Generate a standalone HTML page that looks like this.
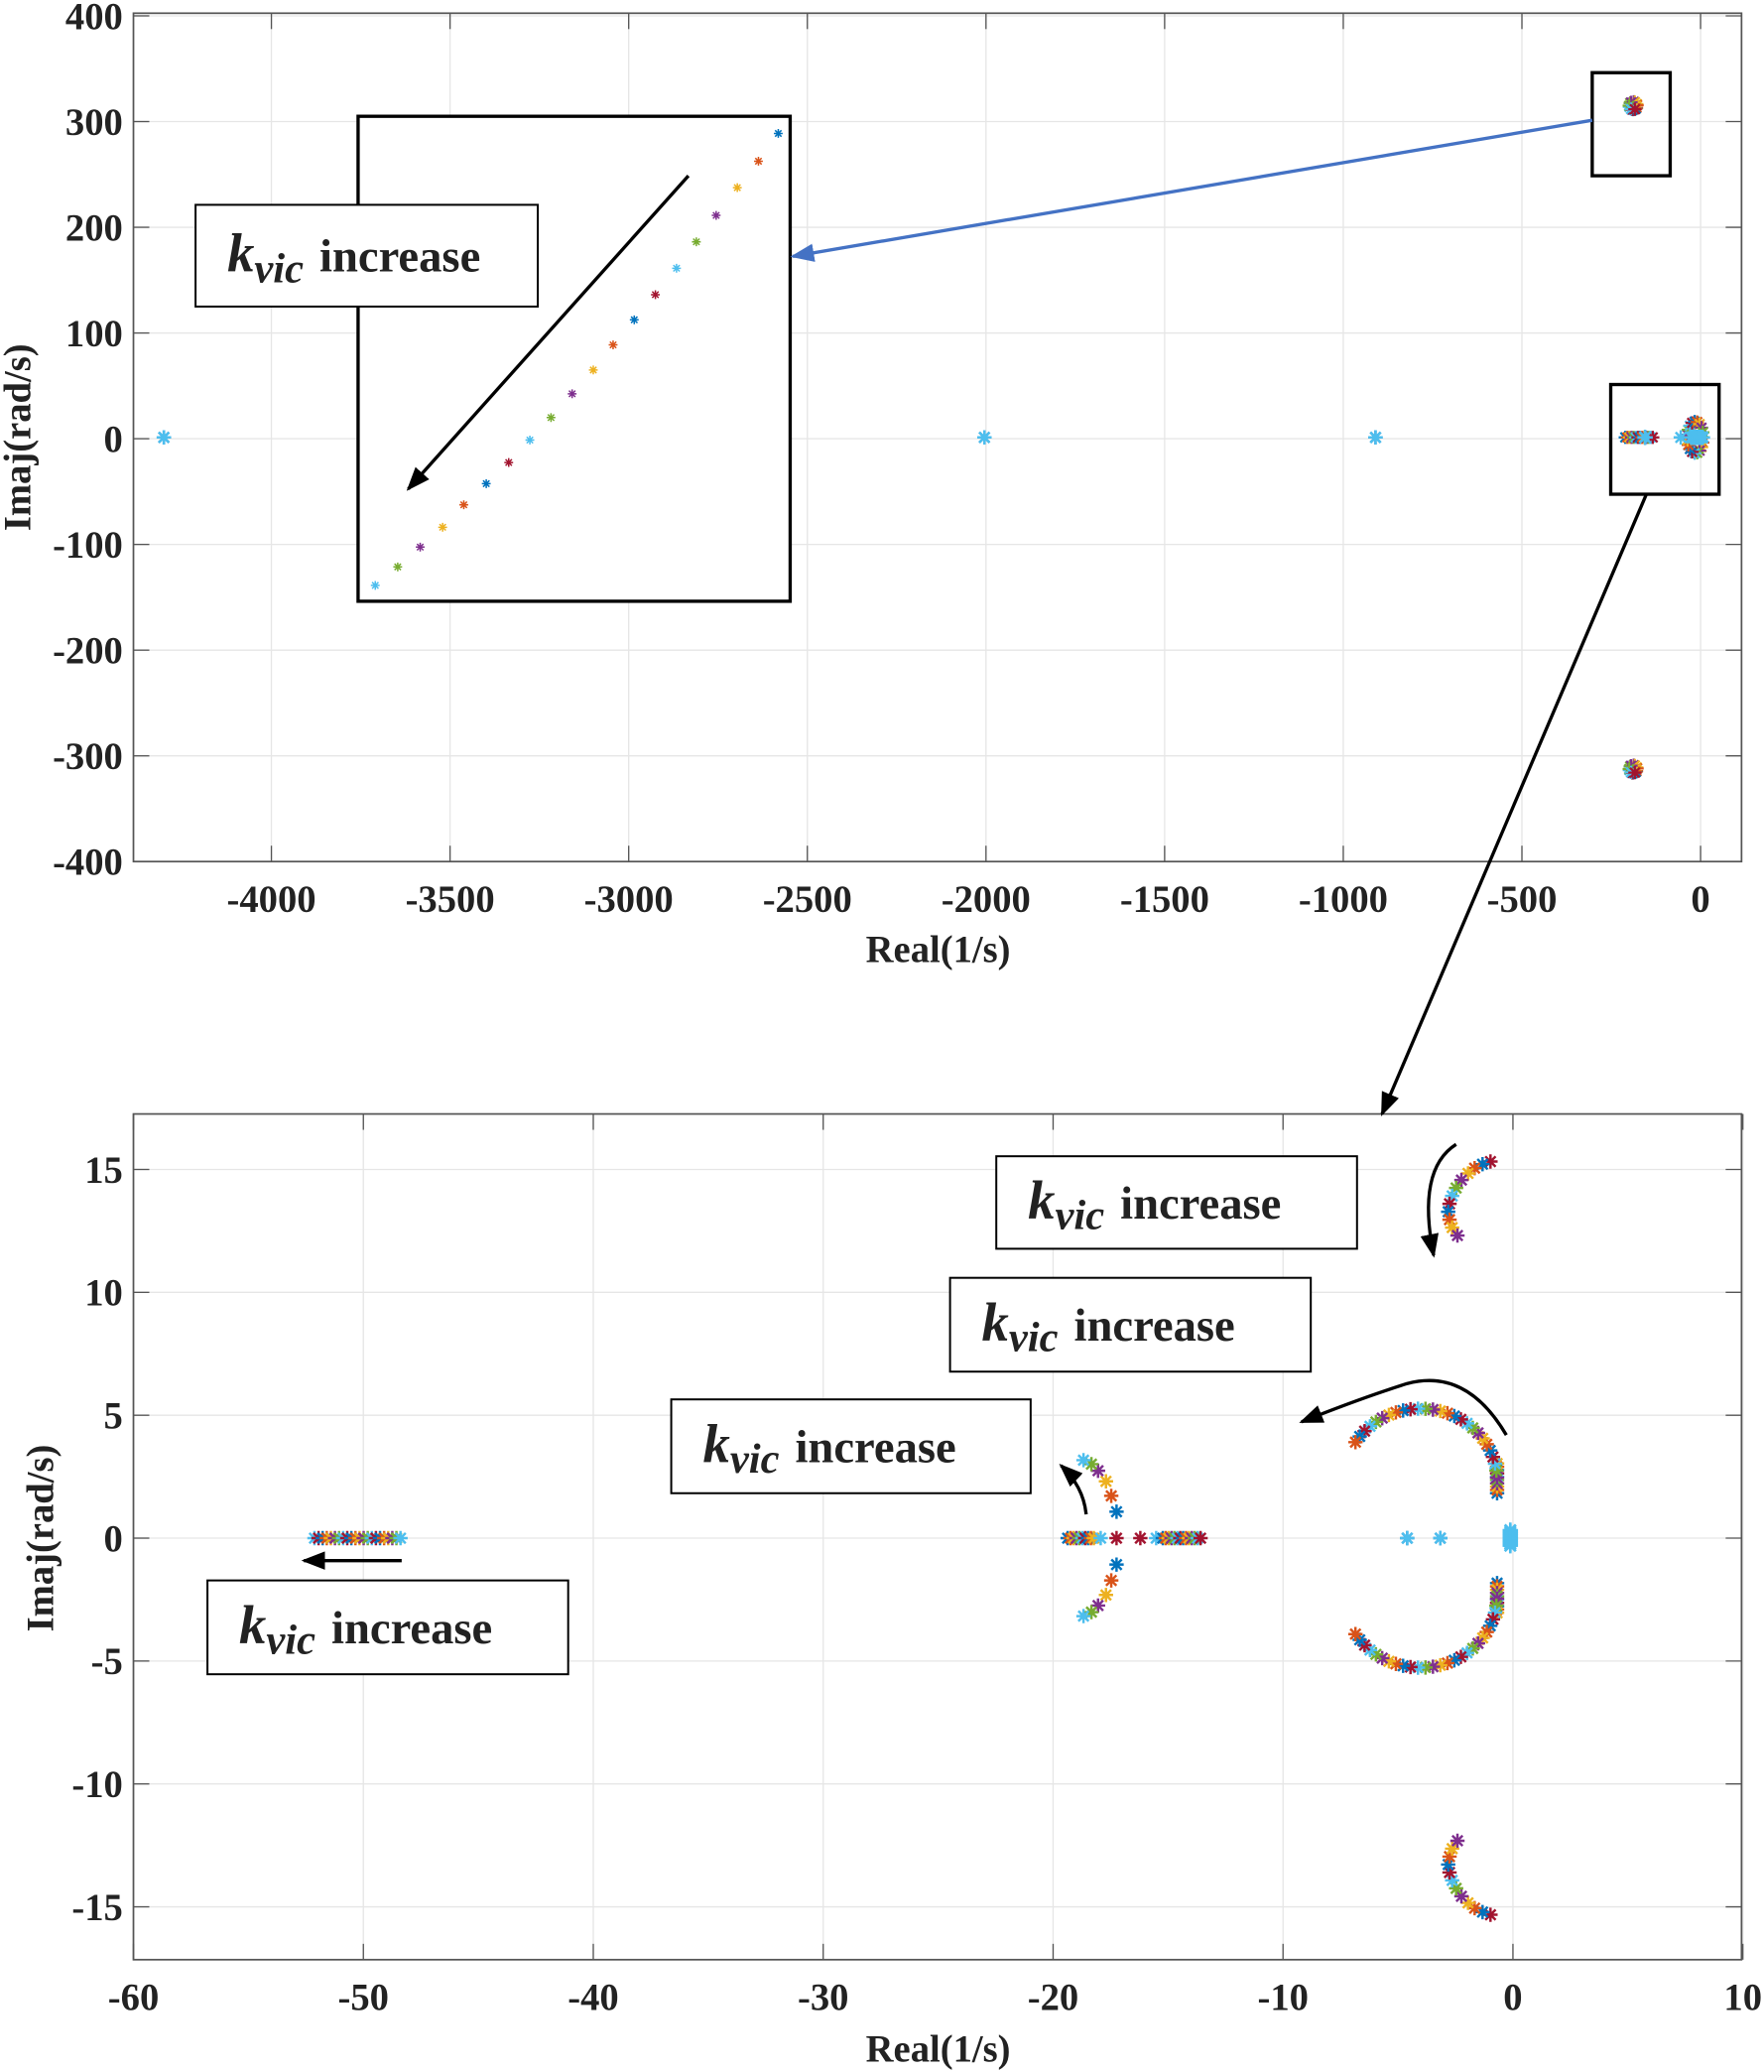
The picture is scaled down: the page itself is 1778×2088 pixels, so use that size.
<!DOCTYPE html>
<html><head><meta charset="utf-8"><style>
html,body{margin:0;padding:0;background:#fff}
svg{display:block}
text{font-family:"Liberation Serif",serif;font-weight:bold;fill:#222}
</style></head><body>
<svg id="s" width="1778" height="2088" viewBox="0 0 1335 1568" preserveAspectRatio="none" xmlns="http://www.w3.org/2000/svg">
<defs>
<symbol id="st" viewBox="-6 -6 12 12" overflow="visible">
<path d="M-5 0H5M0-5V5M-3.6-3.6L3.6 3.6M-3.6 3.6L3.6-3.6" stroke-width="1.7" fill="none"/>
</symbol>
<marker id="ahb" markerWidth="18" markerHeight="14" refX="16" refY="7" orient="auto" markerUnits="userSpaceOnUse"><path d="M0 0L18 7L0 14z" fill="#000"/></marker>
<marker id="ahbl" markerWidth="18" markerHeight="14" refX="16" refY="7" orient="auto" markerUnits="userSpaceOnUse"><path d="M0 0L18 7L0 14z" fill="#4472C4"/></marker>
</defs>
<g id="grid" stroke="#e6e6e6" stroke-width="1"></g>
<g id="axes"></g>
<g id="pts"></g>
<g id="ann"></g>
</svg>
<script>
const NS="http://www.w3.org/2000/svg";
function el(p,t,a,txt){const e=document.createElementNS(NS,t);for(const k in a)e.setAttribute(k,a[k]);if(txt!==undefined)e.textContent=txt;document.getElementById(p).appendChild(e);return e;}
const C=["#0072BD","#D95319","#EDB120","#7E2F8E","#77AC30","#4DBEEE","#A2142F"];
function star(x,y,c,r){r=r||6.5;el("pts","use",{href:"#st",x:x-r,y:y-r,width:2*r,height:2*r,stroke:c});}
function axes(L,R,T,B,xt,yt){
 xt.forEach(([v,p])=>{el("grid","line",{x1:p,x2:p,y1:T,y2:B});});
 yt.forEach(([v,p])=>{el("grid","line",{x1:L,x2:R,y1:p,y2:p});});
 el("axes","rect",{x:L,y:T,width:R-L,height:B-T,fill:"none",stroke:"#555","stroke-width":1.3});
 xt.forEach(([v,p])=>{el("axes","line",{x1:p,x2:p,y1:B,y2:B-12,stroke:"#555"});el("axes","line",{x1:p,x2:p,y1:T,y2:T+12,stroke:"#555"});
   el("axes","text",{x:p,y:B+38,"text-anchor":"middle","font-size":29},v);});
 yt.forEach(([v,p])=>{el("axes","line",{x1:L,x2:L+12,y1:p,y2:p,stroke:"#555"});el("axes","line",{x1:R,x2:R-12,y1:p,y2:p,stroke:"#555"});
   el("axes","text",{x:L-8,y:p+10,"text-anchor":"end","font-size":29},v);});
}
let xt=[],yt=[];
for(let i=0;i<=8;i++){xt.push([i==0?"0":String(-500*i),1287-135.2*i]);}
for(let i=0;i<=8;i++){let v=400-100*i;yt.push([String(v),12+80*i]);}
axes(101,1318,10,652,xt,yt);
xt=[];yt=[];
for(let i=0;i<=7;i++){xt.push([String(-60+10*i),101+174*i]);}
for(let i=0;i<=6;i++){yt.push([String(15-5*i),885+93*i]);}
axes(101,1318,843,1483,xt,yt);
el("axes","text",{x:710,y:728,"text-anchor":"middle","font-size":29},"Real(1/s)");
el("axes","text",{x:710,y:1560,"text-anchor":"middle","font-size":29},"Real(1/s)");
el("axes","text",{x:0,y:0,"text-anchor":"middle","font-size":29,transform:"translate(23,331) rotate(-90)"},"Imaj(rad/s)");
el("axes","text",{x:0,y:0,"text-anchor":"middle","font-size":29,transform:"translate(40,1164) rotate(-90)"},"Imaj(rad/s)");
// top points
[[124,331],[745,331],[1041,331]].forEach(p=>{star(p[0],p[1],C[0]);star(p[0],p[1],C[5]);});
for(let i=0;i<14;i++){star(1236+Math.sin(i)*3,80+Math.cos(i)*3,C[i%7],6);star(1236+Math.sin(i)*3,582+Math.cos(i)*3,C[i%7],6);}
for(let i=0;i<14;i++){star(1230+i*1.6,331,C[i%7],6);}
star(1245,331,C[5],7);
for(let i=0;i<20;i++){let a=i/19*Math.PI*2;star(1283+Math.cos(a)*6,331+Math.sin(a)*12,C[i%7],6);}
star(1272,331,C[5]);
for(let i=0;i<8;i++)star(1280+i*1.2,331,C[5],7);
// inset
el("ann","rect",{x:271,y:88,width:327,height:367,fill:"#fff",stroke:"#000","stroke-width":2.5});
const ins=[[589,101],[574,122],[558,142],[542,163],[527,183],[512,203],[496,223],[480,242],[464,261],[449,280],[433,298],[417,316],[401,333],[385,350],[368,366],[351,382],[335,399],[318,414],[301,429],[284,443]];
ins.forEach((p,i)=>{el("ann","use",{href:"#st",x:p[0]-4,y:p[1]-4,width:8,height:8,stroke:C[i%7]});});
el("ann","line",{x1:521,y1:133,x2:309,y2:370,stroke:"#000","stroke-width":2.5,"marker-end":"url(#ahb)"});
function box(x,y,w,h,sz){el("ann","rect",{x:x,y:y,width:w,height:h,fill:"#fff",stroke:"#000","stroke-width":1.5});
 const t=el("ann","text",{x:x+24,y:y+h/2+12,"font-size":sz});
 const a=document.createElementNS(NS,"tspan");a.setAttribute("font-style","italic");a.setAttribute("font-size",sz+6);a.textContent="k";t.appendChild(a);
 const b=document.createElementNS(NS,"tspan");b.setAttribute("font-style","italic");b.setAttribute("font-size",sz-3);b.setAttribute("dy","8");b.textContent="vic";t.appendChild(b);
 const c=document.createElementNS(NS,"tspan");c.setAttribute("dy","-8");c.setAttribute("dx","12");c.textContent="increase";t.appendChild(c);}
box(148,155,259,77,35);
el("ann","rect",{x:1205,y:55,width:59,height:78,fill:"none",stroke:"#000","stroke-width":2.5});
el("ann","rect",{x:1219,y:291,width:82,height:83,fill:"none",stroke:"#000","stroke-width":2.5});
el("ann","line",{x1:1205,y1:91,x2:600,y2:194,stroke:"#4472C4","stroke-width":2.5,"marker-end":"url(#ahbl)"});
el("ann","line",{x1:1246,y1:374,x2:1046,y2:843,stroke:"#000","stroke-width":2.5,"marker-end":"url(#ahb)"});
box(754,875,273,70,35);box(719,967,273,71,35);box(508,1059,272,71,35);box(157,1196,273,71,35);
// bottom points
const up=[[1128,879],[1122,881],[1116,884],[1111,888],[1106,893],[1102,899],[1099,905],[1097,911],[1096,917],[1097,923],[1099,929],[1103,935]];
up.forEach((p,i)=>{star(p[0],p[1],C[(i+6)%7]);star(p[0],2328-p[1],C[(i+6)%7]);});
let k=0;
for(let i=0;i<10;i++){let y=1130-i*2.5;star(1133,y,C[k%7]);star(1133,2328-y,C[k%7]);k++;}
for(let i=0;i<=26;i++){let t=(2+i*(148-2)/26)*Math.PI/180;let x=1075+58*Math.cos(t),y=1120-54*Math.sin(t);star(x,y,C[k%7]);star(x,2328-y,C[k%7]);k++;}
[[1065,1164],[1090,1164]].forEach(p=>{star(p[0],p[1],C[0]);star(p[0],p[1],C[5]);});
for(let i=0;i<10;i++)star(1143,1158+i*1.3,C[5],7);
for(let i=0;i<10;i++)star(808+i*2.2,1164,C[i%7]);
star(833,1164,C[5]);star(845,1164,C[6]);star(863,1164,C[6]);star(875,1164,C[5]);
for(let i=0;i<14;i++)star(880+i*2.2,1164,C[i%7]);
[[845,1144],[841,1132],[837,1121],[831,1113],[826,1108],[820,1105]].forEach((p,i)=>{star(p[0],p[1],C[i]);star(p[0],2328-p[1],C[i]);});
for(let i=0;i<22;i++)star(238+i*3.1,1164,C[(i+5)%7]);
el("ann","path",{d:"M1102 866 Q1072 885 1085 950",fill:"none",stroke:"#000","stroke-width":2.5,"marker-end":"url(#ahb)"});
el("ann","path",{d:"M1140 1086 Q1110 1035 1065 1047 Q1030 1058 985 1076",fill:"none",stroke:"#000","stroke-width":2.5,"marker-end":"url(#ahb)"});
el("ann","path",{d:"M822 1146 Q820 1125 803 1109",fill:"none",stroke:"#000","stroke-width":2.5,"marker-end":"url(#ahb)"});
el("ann","line",{x1:304,y1:1181,x2:230,y2:1181,stroke:"#000","stroke-width":2.5,"marker-end":"url(#ahb)"});
</script>
</body></html>
